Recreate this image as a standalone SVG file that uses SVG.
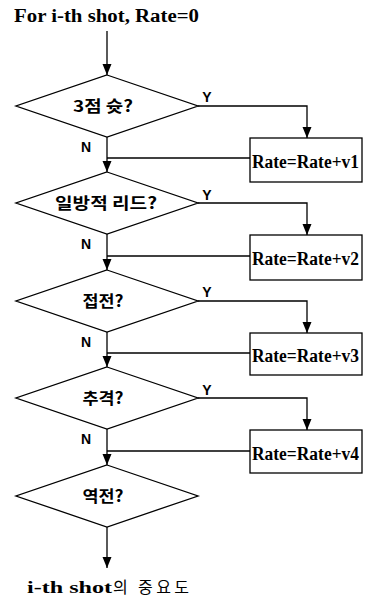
<svg xmlns="http://www.w3.org/2000/svg" width="365" height="599" viewBox="0 0 365 599">
<style>
.ln{fill:none;stroke:#000;stroke-width:1.3}
.sh{fill:#fff;stroke:#000;stroke-width:1.3}
.ser{font-family:"Liberation Serif","Noto Sans CJK KR",serif;font-weight:bold;fill:#000}
.kr{font-family:"Noto Sans CJK KR",sans-serif;font-weight:bold;font-size:16px;fill:#000;text-anchor:middle}
.lb{font-family:"Liberation Sans",sans-serif;font-weight:bold;font-size:14px;fill:#000;text-anchor:middle}
.box{font-family:"Liberation Serif",serif;font-weight:bold;font-size:18px;fill:#000}
</style>
<defs>
<marker id="ah" markerUnits="userSpaceOnUse" markerWidth="14" markerHeight="12" refX="11" refY="5" orient="auto" viewBox="0 0 14 10">
<path d="M0,0.5 L11,5 L0,9.5 z" fill="#000"/>
</marker>
</defs>
<g id="connectors">
<line class="ln" x1="107" y1="31" x2="107" y2="75" marker-end="url(#ah)"/>
<polyline class="ln" points="198,106 307,106 307,138" marker-end="url(#ah)"/>
<line class="ln" x1="250" y1="158" x2="107" y2="158"/>
<line class="ln" x1="107" y1="137" x2="107" y2="172" marker-end="url(#ah)"/>
<polyline class="ln" points="198,203 307,203 307,235" marker-end="url(#ah)"/>
<line class="ln" x1="250" y1="256" x2="107" y2="256"/>
<line class="ln" x1="107" y1="234" x2="107" y2="270" marker-end="url(#ah)"/>
<polyline class="ln" points="198,301 307,301 307,333" marker-end="url(#ah)"/>
<line class="ln" x1="250" y1="353" x2="107" y2="353"/>
<line class="ln" x1="107" y1="332" x2="107" y2="367" marker-end="url(#ah)"/>
<polyline class="ln" points="198,398 307,398 307,430" marker-end="url(#ah)"/>
<line class="ln" x1="250" y1="451" x2="107" y2="451"/>
<line class="ln" x1="107" y1="429" x2="107" y2="465" marker-end="url(#ah)"/>
<line class="ln" x1="107" y1="527" x2="107" y2="568" marker-end="url(#ah)"/>
<text class="lb" x="207" y="102">Y</text>
<text class="lb" x="86" y="152">N</text>
<text class="lb" x="207" y="200">Y</text>
<text class="lb" x="86" y="249">N</text>
<text class="lb" x="207" y="297">Y</text>
<text class="lb" x="86" y="347">N</text>
<text class="lb" x="207" y="395">Y</text>
<text class="lb" x="86" y="444">N</text>
</g>
<g id="start">
<text class="ser" x="14" y="22" font-size="18" textLength="185" lengthAdjust="spacingAndGlyphs">For i-th shot, Rate=0</text>
</g>
<g id="d1">
<polygon class="sh" points="107,75 198,106 107,137 16,106"/>
<text class="kr" x="103" y="112" textLength="60" lengthAdjust="spacingAndGlyphs">3점 슛?</text>
</g>
<g id="b1">
<rect class="sh" x="250" y="138" width="112" height="44"/>
<text class="box" x="252" y="168" textLength="107" lengthAdjust="spacingAndGlyphs">Rate=Rate+v1</text>
</g>
<g id="d2">
<polygon class="sh" points="107,172 198,203 107,234 16,203"/>
<text class="kr" x="106" y="209" textLength="102" lengthAdjust="spacingAndGlyphs">일방적 리드?</text>
</g>
<g id="b2">
<rect class="sh" x="250" y="235" width="112" height="45"/>
<text class="box" x="252" y="265" textLength="107" lengthAdjust="spacingAndGlyphs">Rate=Rate+v2</text>
</g>
<g id="d3">
<polygon class="sh" points="107,270 198,301 107,332 16,301"/>
<text class="kr" x="103" y="307" textLength="41" lengthAdjust="spacingAndGlyphs">접전?</text>
</g>
<g id="b3">
<rect class="sh" x="250" y="333" width="112" height="42"/>
<text class="box" x="252" y="362" textLength="107" lengthAdjust="spacingAndGlyphs">Rate=Rate+v3</text>
</g>
<g id="d4">
<polygon class="sh" points="107,367 198,398 107,429 16,398"/>
<text class="kr" x="103" y="404" textLength="41" lengthAdjust="spacingAndGlyphs">추격?</text>
</g>
<g id="b4">
<rect class="sh" x="250" y="430" width="112" height="43"/>
<text class="box" x="252" y="460" textLength="107" lengthAdjust="spacingAndGlyphs">Rate=Rate+v4</text>
</g>
<g id="d5">
<polygon class="sh" points="107,465 198,496 107,527 16,496"/>
<text class="kr" x="103" y="502" textLength="41" lengthAdjust="spacingAndGlyphs">역전?</text>
</g>
<g id="end">
<text x="27" y="593" font-size="17"><tspan class="ser" textLength="85" lengthAdjust="spacingAndGlyphs">i-th shot</tspan><tspan font-family="Noto Sans CJK KR, sans-serif" font-size="16" x="113" textLength="76">의 중요도</tspan></text>
</g>
</svg>
